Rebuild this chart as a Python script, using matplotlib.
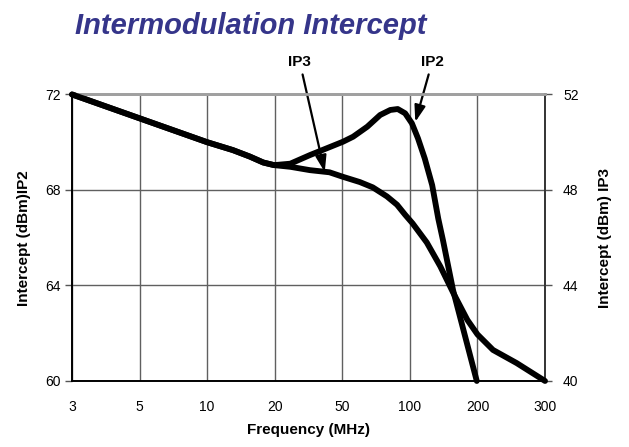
import matplotlib
matplotlib.use("Agg")
import matplotlib.pyplot as plt

plt.rcParams['font.family'] = ['Liberation Sans', 'DejaVu Sans']

freq_labels = ['3', '5', '10', '20', '50', '100', '200', '300']

# curve points, x as position on the frequency grid
ip2_pos = [0, 1, 2, 2.38, 2.63, 2.83, 2.99, 3.23, 3.52, 4.01, 4.16, 4.37, 4.56, 4.71, 4.82,
           4.93, 5.03, 5.12, 5.22, 5.33, 5.42, 5.49, 5.64, 5.99]
ip2_val = [72, 71.0, 70.0, 69.67, 69.4, 69.15, 69.04, 69.1, 69.46, 70.02, 70.23, 70.65, 71.14, 71.35, 71.39,
           71.21, 70.79, 70.16, 69.32, 68.2, 66.8, 65.89, 63.79, 60.0]

ip3_pos = [0, 1, 2, 2.38, 2.63, 2.83, 2.99, 3.23, 3.52, 3.81, 4.01, 4.26, 4.45, 4.66, 4.81,
           4.93, 5.04, 5.25, 5.45, 5.64, 5.85, 6.0, 6.23, 6.58, 7.0]
ip3_val = [52, 51, 50.0, 49.67, 49.4, 49.15, 49.04, 48.97, 48.83, 48.74, 48.55, 48.33, 48.11, 47.73, 47.38,
           46.96, 46.6, 45.8, 44.8, 43.7, 42.56, 41.95, 41.3, 40.75, 40.0]

ip2_ticks = [60, 64, 68, 72]
ip3_ticks = [40, 44, 48, 52]

fig = plt.figure(figsize=(6.29, 4.47), dpi=100)
ax = fig.add_axes([0.1145, 0.1477, 0.752, 0.641])
ax2 = ax.twinx()

ax.set_xlim(0, len(freq_labels) - 1)
ax.set_ylim(60, 72)
ax2.set_ylim(40, 52)

ax.set_xticks(range(len(freq_labels)))
ax.set_xticklabels(freq_labels)
ax.set_yticks(ip2_ticks)
ax2.set_yticks(ip3_ticks)

ax.grid(True, color='#606060', linewidth=1)
ax.tick_params(axis='x', length=0, pad=14, labelsize=10)
ax.tick_params(axis='y', length=5, width=1, pad=3, labelsize=10, color='#555555')
ax2.tick_params(axis='y', length=5, width=1, pad=8, labelsize=10, color='#555555')

for a in (ax, ax2):
    a.spines['top'].set_color('#a0a0a0')
    a.spines['top'].set_linewidth(2)
    a.spines['bottom'].set_linewidth(1.2)
    a.spines['left'].set_linewidth(1.2)
    a.spines['right'].set_linewidth(1.2)
    a.spines['right'].set_color('#333333')

ax.plot(ip2_pos, ip2_val, color='black', linewidth=4.2,
        solid_joinstyle='round', solid_capstyle='round', clip_on=False, zorder=5)
ax2.plot(ip3_pos, ip3_val, color='black', linewidth=4.2,
         solid_joinstyle='round', solid_capstyle='round', clip_on=False, zorder=5)

arrow = dict(arrowstyle='-|>,head_length=0.9,head_width=0.3', color='black', lw=1.6, shrinkA=2, shrinkB=0)
ax.annotate('IP3', xy=(3.74, 68.75), xytext=(3.37, 73.36), ha='center', va='center',
            fontsize=11, fontweight='bold', arrowprops=arrow, annotation_clip=False)
ax.annotate('IP2', xy=(5.08, 70.85), xytext=(5.33, 73.36), ha='center', va='center',
            fontsize=11, fontweight='bold', arrowprops=arrow, annotation_clip=False)

ax.set_xlabel('Frequency (MHz)', fontsize=11, fontweight='bold', labelpad=6)
ax.set_ylabel('Intercept (dBm)IP2', fontsize=11, fontweight='bold', labelpad=10)
ax2.set_ylabel('Intercept (dBm) IP3', fontsize=11, fontweight='bold', labelpad=14)

fig.text(0.119, 0.942, 'Intermodulation Intercept', fontsize=21, fontweight='bold',
         fontstyle='italic', color='#35358a', ha='left', va='center')

fig.savefig('out.png', dpi=100)
